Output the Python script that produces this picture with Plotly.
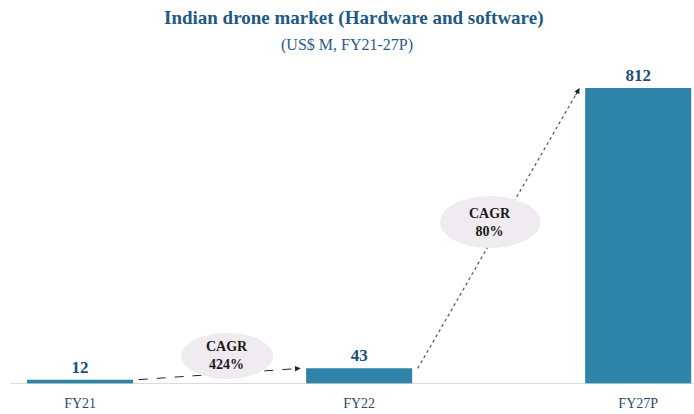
import plotly.graph_objects as go

# Market size, US$ M
years = ["FY21", "FY22", "FY27P"]
market_size = [12, 43, 812]
cagr_labels = ["CAGR<br>424%", "CAGR<br>80%"]

TITLE_BLUE = "#1f5a85"
BAR_BLUE = "#2e84a8"
SERIF = "Liberation Serif, Times New Roman, serif"

xpos = list(range(len(years)))

fig = go.Figure()
fig.add_trace(go.Bar(
    x=xpos,
    y=market_size,
    width=0.38,
    marker=dict(color=BAR_BLUE, line=dict(width=0)),
    text=[str(v) for v in market_size],
    textposition="outside",
    cliponaxis=False,
    textfont=dict(family=SERIF, size=17, color="#1b4f79", weight="bold"),
    hoverinfo="skip",
))

shapes = []
annotations = []

# Baseline
shapes.append(dict(type="line", xref="paper", yref="y", x0=0.015, x1=1, y0=0, y1=0,
                   line=dict(color="#cfcfcf", width=1.5), layer="above"))

# Growth arrows between consecutive bar tops
gap = 0.21
arrow_styles = [
    dict(color="#222222", width=1, dash="dash"),
    dict(color="#555555", width=1.2, dash="dot"),
]
for i in range(len(market_size) - 1):
    xs, ys = i + gap, market_size[i]
    xe, ye = i + 1 - gap, market_size[i + 1]
    shapes.append(dict(type="line", xref="x", yref="y", x0=xs, y0=ys, x1=xe, y1=ye,
                       line=arrow_styles[i], layer="above"))
    t = 0.03
    annotations.append(dict(
        x=xe, y=ye, xref="x", yref="y",
        ax=xe - (xe - xs) * t, ay=ye - (ye - ys) * t, axref="x", ayref="y",
        showarrow=True, arrowhead=2, arrowsize=1.1, arrowwidth=1, arrowcolor="#222222",
        text="",
    ))

# CAGR bubbles (drawn over the arrow lines)
bubbles = [
    dict(x0=0.362, x1=0.692, y0=14, y1=140),
    dict(x0=1.290, x1=1.649, y0=373, y1=516),
]
for b, label in zip(bubbles, cagr_labels):
    shapes.append(dict(type="circle", xref="x", yref="y", layer="above",
                       fillcolor="#efebf0", line=dict(width=0), **b))
    annotations.append(dict(
        x=(b["x0"] + b["x1"]) / 2, y=(b["y0"] + b["y1"]) / 2, xref="x", yref="y",
        text="<b>" + label + "</b>", showarrow=False,
        font=dict(family=SERIF, size=14, color="#1a1a1a"),
    ))

# Title and subtitle (y given in pixels from the top of the page)
annotations.append(dict(
    x=0.51, y=18, xref="paper", yref="paper", yanchor="middle",
    text="<b>Indian drone market (Hardware and software)</b>", showarrow=False,
    font=dict(family=SERIF, size=19, color=TITLE_BLUE),
))
annotations.append(dict(
    x=0.5, y=45, xref="paper", yref="paper", yanchor="middle",
    text="(US$ M, FY21-27P)", showarrow=False,
    font=dict(family=SERIF, size=16, color="#2a5a88"),
))

fig.update_layout(
    width=694, height=414,
    margin=dict(l=0, r=0, t=60, b=30),
    paper_bgcolor="white", plot_bgcolor="white",
    showlegend=False,
    shapes=shapes,
    annotations=annotations,
    xaxis=dict(
        range=[-0.287, 2.2], tickmode="array", tickvals=xpos, ticktext=years,
        showgrid=False, zeroline=False, showline=False, ticks="",
        ticklabelstandoff=9,
        tickfont=dict(family=SERIF, size=14, color="#2b4a6b"),
        fixedrange=True,
    ),
    yaxis=dict(range=[0, 889], visible=False, fixedrange=True),
)

plot_h = 414 - 60 - 30
for a in fig.layout.annotations:
    if a.xref == "paper" and a.yref == "paper":
        a.y = 1 + (60 - a.y) / plot_h

fig.write_html("out.html")
